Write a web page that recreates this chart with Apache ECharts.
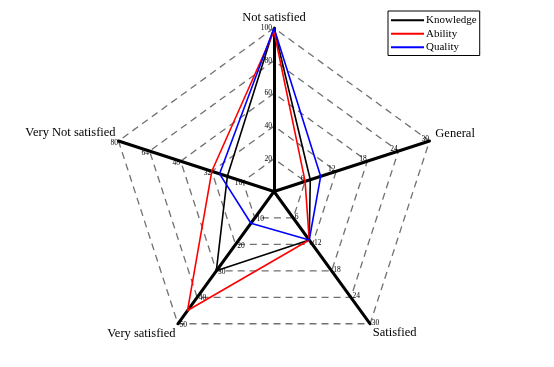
<!DOCTYPE html>
<html>
<head>
<meta charset="utf-8">
<script src="https://cdn.jsdelivr.net/npm/echarts@6/dist/echarts.min.js"></script>
<style>html,body{margin:0;padding:0;background:#fff}#c{width:554px;height:367px}</style>
</head>
<body>
<div id="c"></div>
<script>
const indicatorNames = ['Not satisfied', 'Very Not satisfied', 'Very satisfied', 'Satisfied', 'General'];
const indicatorMax = [100, 80, 50, 30, 30];
const seriesNames = ['Knowledge', 'Ability', 'Quality'];
const knowledge = [100, 24, 30, 11, 7];
const ability = [98, 32, 45, 11, 6];
const quality = [100, 28, 12, 11, 9];
const colors = ['#000000', '#ff0000', '#0000ff'];

const FONT = '"Liberation Serif", "DejaVu Serif", serif';
const nameKeys = {'Not satisfied': 'n0', 'Very Not satisfied': 'n1', 'Very satisfied': 'n2', 'Satisfied': 'n3', 'General': 'n4'};
const baseName = {color: '#000', fontFamily: FONT, fontSize: 12.5};
const chart = echarts.init(document.getElementById('c'), null, {renderer: 'canvas'});
const values = [knowledge, ability, quality];
chart.setOption({
  animation: false,
  backgroundColor: '#ffffff',
  legend: {
    orient: 'vertical',
    left: 388,
    top: 11,
    data: seriesNames,
    icon: 'rect',
    itemWidth: 33,
    itemHeight: 2,
    itemGap: 1,
    padding: [3, 3, 2, 3],
    borderColor: '#000',
    borderWidth: 1,
    borderRadius: 0,
    textStyle: {fontFamily: FONT, fontSize: 11, color: '#000', padding: [0, 0, 0, -3], lineHeight: 12.5}
  },
  radar: {
    center: [274, 191.5],
    radius: 163.5,
    startAngle: 90,
    splitNumber: 5,
    shape: 'polygon',
    indicator: indicatorNames.map((n, i) => ({name: n, min: 0, max: indicatorMax[i]})),
    axisName: {
      color: '#000', fontFamily: FONT, fontSize: 12.5,
      formatter: (name) => '{' + nameKeys[name] + '|' + name + '}',
      rich: {
        n0: Object.assign({padding: [0, 0, 0, 0]}, baseName),
        n1: Object.assign({padding: [0, -14, 6, 0]}, baseName),
        n2: Object.assign({padding: [6, -3, 0, 0]}, baseName),
        n3: Object.assign({padding: [0, 0, 0, -4]}, baseName),
        n4: Object.assign({padding: [0, 0, 12, 2]}, baseName)
      }
    },
    nameGap: 4,
    axisLine: {lineStyle: {color: '#000', width: 3}},
    axisTick: {show: false},
    axisLabel: {show: true, showMinLabel: false, color: '#000', fontFamily: FONT, fontSize: 7.5, margin: 2},
    splitLine: {lineStyle: {color: '#707070', width: 1.3, type: [7, 5]}},
    splitArea: {show: false}
  },
  series: [{
    type: 'radar',
    symbol: 'none',
    data: seriesNames.map((n, i) => ({
      name: n,
      value: values[i],
      lineStyle: {color: colors[i], width: 1.6},
      itemStyle: {color: colors[i]}
    }))
  }]
});
</script>
</body>
</html>
